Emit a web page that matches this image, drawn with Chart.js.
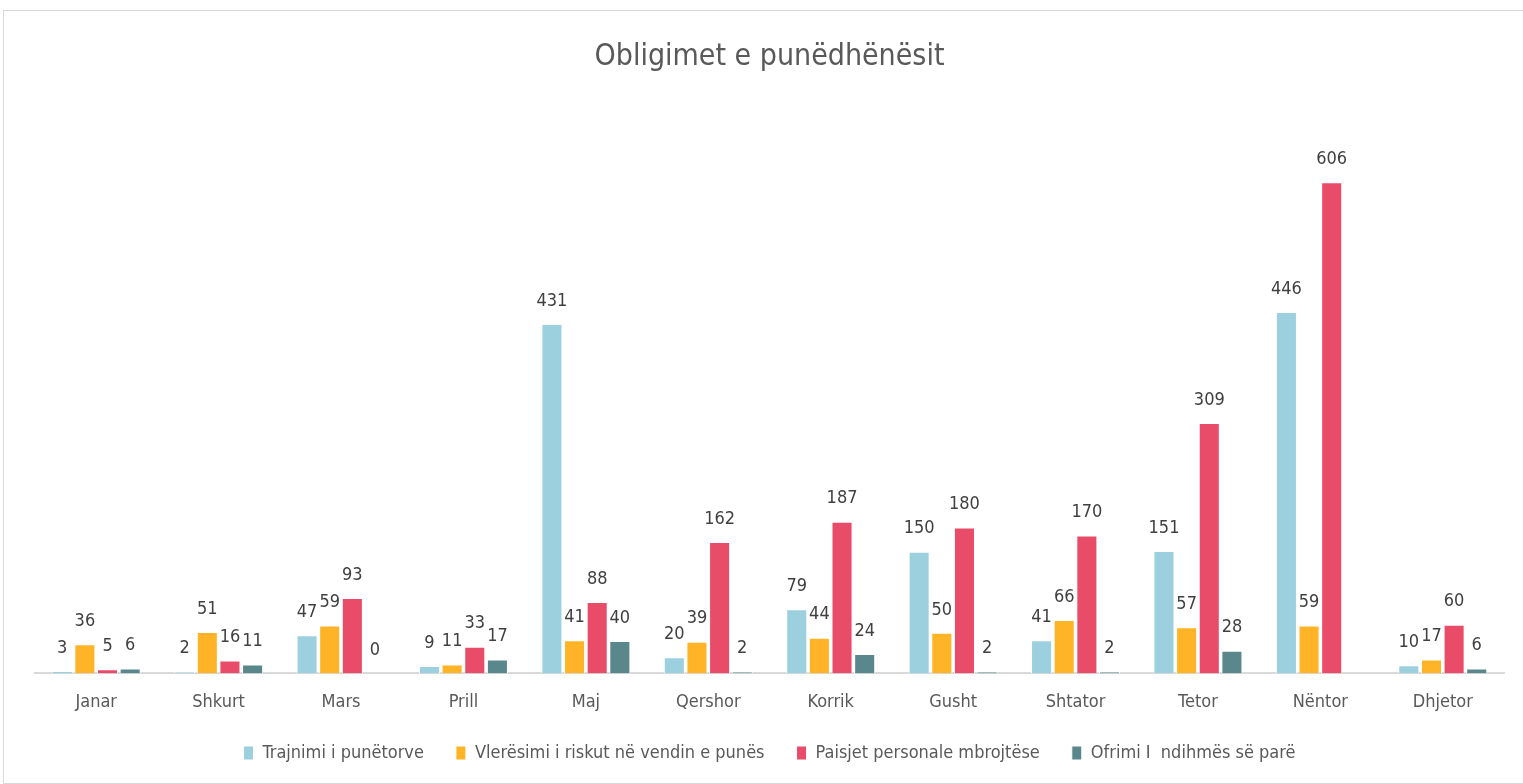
<!DOCTYPE html>
<html>
<head>
<meta charset="utf-8">
<script src="https://cdn.jsdelivr.net/npm/chart.js@4.4.1/dist/chart.umd.min.js"></script>
<style>
  html, body { margin: 0; padding: 0; background: #ffffff; overflow: hidden; }
  #wrap { position: absolute; left: 3px; top: 10px; width: 1522px; height: 774px; border: 1px solid #d9d9d9; box-sizing: border-box; background: #fff; }
</style>
</head>
<body>
<div id="wrap"><canvas id="c"></canvas></div>
<script>
const months = ["Janar","Shkurt","Mars","Prill","Maj","Qershor","Korrik","Gusht","Shtator","Tetor","Nëntor","Dhjetor"];
const trajnimi = [3, 2, 47, 9, 431, 20, 79, 150, 41, 151, 446, 10];
const vleresimi = [36, 51, 59, 11, 41, 39, 44, 50, 66, 57, 59, 17];
const paisjet = [5, 16, 93, 33, 88, 162, 187, 180, 170, 309, 606, 60];
const ofrimi = [6, 11, 0, 17, 40, 2, 24, 2, 2, 28, null, 6];
const seriesNames = ["Trajnimi i punëtorve", "Vlerësimi i riskut në vendin e punës", "Paisjet personale mbrojtëse", "Ofrimi I  ndihmës së parë"];

const FONT = "'Liberation Sans Narrow', 'DejaVu Sans Condensed', sans-serif";

const labelPlugin = {
  id: 'barLabels',
  afterDatasetsDraw(chart) {
    const ctx = chart.ctx;
    ctx.save();
    ctx.fillStyle = '#404040';
    ctx.font = '18px ' + FONT;
    ctx.textAlign = 'center';
    ctx.textBaseline = 'bottom';
    chart.data.datasets.forEach((ds, di) => {
      const meta = chart.getDatasetMeta(di);
      meta.data.forEach((bar, i) => {
        const v = ds.data[i];
        if (v === null || v === undefined) return;
        ctx.fillText(String(v), bar.x, bar.y - 14);
      });
    });
    ctx.restore();
  }
};

const mk = (label, data, color) => ({
  label, data, backgroundColor: color, borderColor: '#ffffff', borderWidth: 1,
  barPercentage: 0.93, categoryPercentage: 0.74
});

new Chart(document.getElementById('c'), {
  type: 'bar',
  data: {
    labels: months,
    datasets: [
      mk(seriesNames[0], trajnimi, '#9DD0DF'),
      mk(seriesNames[1], vleresimi, '#FFB326'),
      mk(seriesNames[2], paisjet, '#E84C68'),
      mk(seriesNames[3], ofrimi, '#5A878B')
    ]
  },
  options: {
    responsive: true,
    maintainAspectRatio: false,
    animation: false,
    layout: { padding: { left: 31, right: 20, top: 0, bottom: 11 } },
    plugins: {
      title: {
        display: true, text: 'Obligimet e punëdhënësit', color: '#595959',
        font: { family: FONT, size: 30, weight: 'normal' },
        padding: { top: 28, bottom: 31 }
      },
      legend: {
        position: 'bottom',
        labels: {
          color: '#595959', font: { family: FONT, size: 18 },
          boxWidth: 10, boxHeight: 14, padding: 32
        }
      },
      tooltip: { enabled: false }
    },
    scales: {
      x: {
        grid: { display: false, drawTicks: false },
        border: { display: true, color: '#d9d9d9', width: 2 },
        ticks: { color: '#595959', font: { family: FONT, size: 18 }, padding: 18 },
        afterFit(scale) { scale.height -= 19; }
      },
      y: { display: false, min: 0, max: 700 }
    }
  },
  plugins: [labelPlugin]
});
</script>
</body>
</html>
